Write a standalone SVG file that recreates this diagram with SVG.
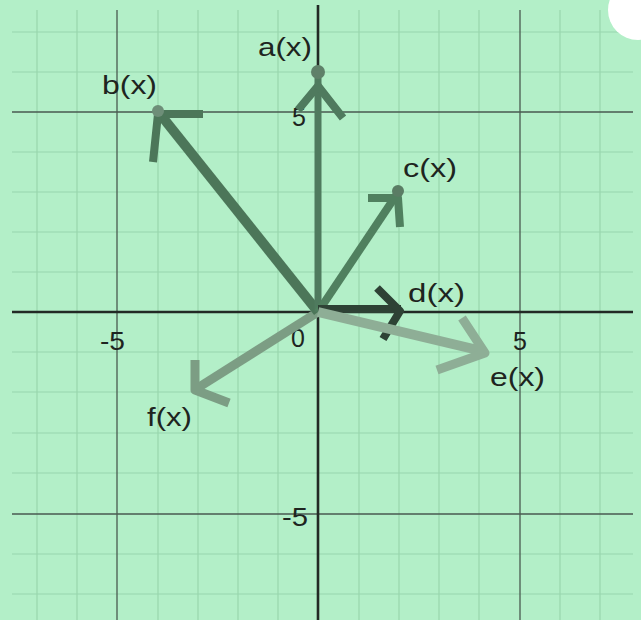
<svg xmlns="http://www.w3.org/2000/svg" width="641" height="620" viewBox="0 0 641 620">
<style>
.minor{stroke:#98d6ad;stroke-width:1.2;fill:none}
.major{stroke:#4a5a50;stroke-width:1.3;fill:none}
.axis{stroke:#222a25;stroke-width:2.6;fill:none}
.lbl{font-family:"Liberation Sans",Arial,sans-serif;font-size:25px;fill:#1e2420}
.tick{font-family:"Liberation Sans",Arial,sans-serif;font-size:25px;fill:#1e2420}
.vec{fill:none;stroke-linecap:butt;stroke-linejoin:round}
</style>
<rect width="641" height="620" fill="#b3efc8"/>
<g id="grid">
<path class="minor" d="M37 10V620M77 10V620M158 10V620M198 10V620M238 10V620M278 10V620M359 10V620M399 10V620M439 10V620M479 10V620M560 10V620M600 10V620"/>
<path class="minor" d="M12 32H633M12 72H633M12 152H633M12 192H633M12 232H633M12 272H633M12 352H633M12 392H633M12 433H633M12 473H633M12 554H633M12 594H633"/>
<path class="major" d="M117 10V620M520 10V620M12 112H633M12 514H633"/>
<path class="axis" d="M318 5V620M12 312H633"/>
</g>
<g id="ticks">
<text class="tick" x="100" y="350" textLength="25" lengthAdjust="spacingAndGlyphs">-5</text>
<text class="tick" x="291" y="347">0</text>
<text class="tick" x="513" y="350">5</text>
<text class="tick" x="282" y="526" textLength="26" lengthAdjust="spacingAndGlyphs">-5</text>
<text class="tick" x="292" y="126">5</text>
</g>
<g id="connectors">
<g id="vec-f" class="vec" stroke="#7c9d84">
<path d="M318 312L196 389" stroke-width="9"/>
<path d="M195 360L195 390L229 403" stroke-width="9"/>
</g>
<g id="vec-b" class="vec" stroke="#4c7659">
<path d="M318 312L160 114" stroke-width="10"/>
<path d="M203 114H158L153 162" stroke-width="8"/>
<circle cx="158" cy="111" r="6" fill="#6e8e78" stroke="none"/>
</g>
<g id="vec-a" class="vec" stroke="#4f7a5e">
<path d="M318 312V78" stroke-width="7"/>
<path d="M298 110L318 86L343 118" stroke-width="8"/>
<circle cx="318" cy="72" r="7" fill="#5f8069" stroke="none"/>
</g>
<g id="vec-c" class="vec" stroke="#50805f">
<path d="M318 312L397 194" stroke-width="8"/>
<path d="M368 198H398L400 227" stroke-width="8"/>
<circle cx="398" cy="191" r="6" fill="#5a7c64" stroke="none"/>
</g>
<g id="vec-d" class="vec" stroke="#2e4235">
<path d="M318 309H401" stroke-width="8"/>
<path d="M377 288L400 311L383 339" stroke-width="8"/>
</g>
<g id="vec-e" class="vec" stroke="#8eae96">
<path d="M318 312L482 351" stroke-width="10"/>
<path d="M462 318L485 353L437 370" stroke-width="9"/>
</g>
</g>
<g id="labels">
<text id="label-a" class="lbl" x="258" y="56" textLength="54" lengthAdjust="spacingAndGlyphs">a(x)</text>
<text id="label-b" class="lbl" x="102" y="94" textLength="55" lengthAdjust="spacingAndGlyphs">b(x)</text>
<text id="label-c" class="lbl" x="403" y="177" textLength="54" lengthAdjust="spacingAndGlyphs">c(x)</text>
<text id="label-d" class="lbl" x="408" y="302" textLength="57" lengthAdjust="spacingAndGlyphs">d(x)</text>
<text id="label-e" class="lbl" x="490" y="386" textLength="55" lengthAdjust="spacingAndGlyphs">e(x)</text>
<text id="label-f" class="lbl" x="147" y="426" textLength="45" lengthAdjust="spacingAndGlyphs">f(x)</text>
</g>
<circle cx="638" cy="10" r="30" fill="#ffffff"/>
</svg>
